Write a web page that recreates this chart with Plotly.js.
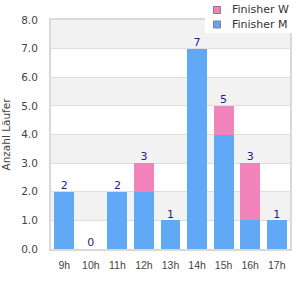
<!DOCTYPE html>
<html><head><meta charset="utf-8">
<script src="https://cdn.plot.ly/plotly-3.0.1.min.js"></script>
<style>body{margin:0}#c{width:300px;height:300px}</style>
</head><body><div id="c"></div>
<script>
const categories = ["9h","10h","11h","12h","13h","14h","15h","16h","17h"];
const finisherM = [2,0,2,2,1,7,4,1,1];
const finisherW = [0,0,0,1,0,0,1,2,0];
const yTicks = [0,1,2,3,4,5,6,7,8];
const yTickLabels = ["0.0","1.0","2.0","3.0","4.0","5.0","6.0","7.0","8.0"];
const legendNames = ["Finisher W","Finisher M"];
const colorM = '#62a9f5', colorW = '#f283bb';
const totals = categories.map((c,i)=>finisherM[i]+finisherW[i]);

const dv = "DejaVu Sans, sans-serif";
const ls = "Liberation Sans, Arial, sans-serif";
const W = 300, H = 300, mL = 51, mR = 10, mT = 20, mB = 51;
const pw = W-mL-mR, ph = H-mT-mB;
const px = v => (v-mL)/pw, py = v => (H-mB-v)/ph;

const shapes = [];
for (let i = 0; i < yTicks.length-1; i++) {
  if ((yTicks.length-2-i) % 2 === 0) {
    shapes.push({type:'rect', xref:'paper', yref:'y', x0:0, x1:1, y0:yTicks[i], y1:yTicks[i+1],
      fillcolor:'#f2f2f2', line:{width:0}, layer:'below'});
  }
}
// legend box
shapes.push({type:'rect', xref:'paper', yref:'paper', x0:px(205), x1:px(292), y0:py(33), y1:py(-2),
  fillcolor:'#ffffff', line:{width:0}, layer:'above'});
const annotations = [];
const legendColors = [colorW, colorM];
legendNames.forEach((n,i)=>{
  const cy = 10 + i*14.5;
  shapes.push({type:'rect', xref:'paper', yref:'paper', x0:px(213.5), x1:px(220.5), y0:py(cy+3.5), y1:py(cy-3.5),
    fillcolor:legendColors[i], line:{width:1, color:'#808080'}, layer:'above'});
  annotations.push({xref:'paper', yref:'paper', x:px(230), y:py(cy), xanchor:'left', yanchor:'middle',
    text:n, showarrow:false, font:{family:dv, size:11, color:'#333'}});
});

const traces = [
  {type:'bar', name:'Finisher M', x:categories, y:finisherM, marker:{color:colorM}, hoverinfo:'none'},
  {type:'bar', name:'Finisher W', x:categories, y:finisherW, marker:{color:colorW}, hoverinfo:'none'},
  {type:'scatter', mode:'text', x:categories, y:totals, text:totals.map(String), textposition:'top center',
   textfont:{family:dv, size:11, color:'#1f2090'}, showlegend:false, hoverinfo:'none', cliponaxis:false}
];
const layout = {
  width:W, height:H, barmode:'stack', bargap:0.25, showlegend:false,
  margin:{l:mL, r:mR, t:mT, b:mB, autoexpand:false},
  paper_bgcolor:'#fff', plot_bgcolor:'rgba(0,0,0,0)',
  font:{family:dv, size:10, color:'#444'},
  shapes: shapes, annotations: annotations,
  xaxis:{type:'category', showgrid:false, showline:true, linecolor:'#d9d9d9', linewidth:2, mirror:true, ticks:'',
    ticklabelstandoff:5, tickfont:{family:ls, size:10.5, color:'#444'}, fixedrange:true},
  yaxis:{range:[0,8], tickvals:yTicks, ticktext:yTickLabels, showgrid:true, gridcolor:'#dedede', gridwidth:1,
    showline:true, linecolor:'#d9d9d9', linewidth:2, mirror:true, zeroline:false, ticks:'',
    ticklabelstandoff:9, tickfont:{family:dv, size:10.5, color:'#444'},
    title:{text:'Anzahl Läufer', font:{family:dv, size:10.5, color:'#444'}, standoff:13}}
};
Plotly.newPlot('c', traces, layout, {staticPlot:true});
</script></body></html>
